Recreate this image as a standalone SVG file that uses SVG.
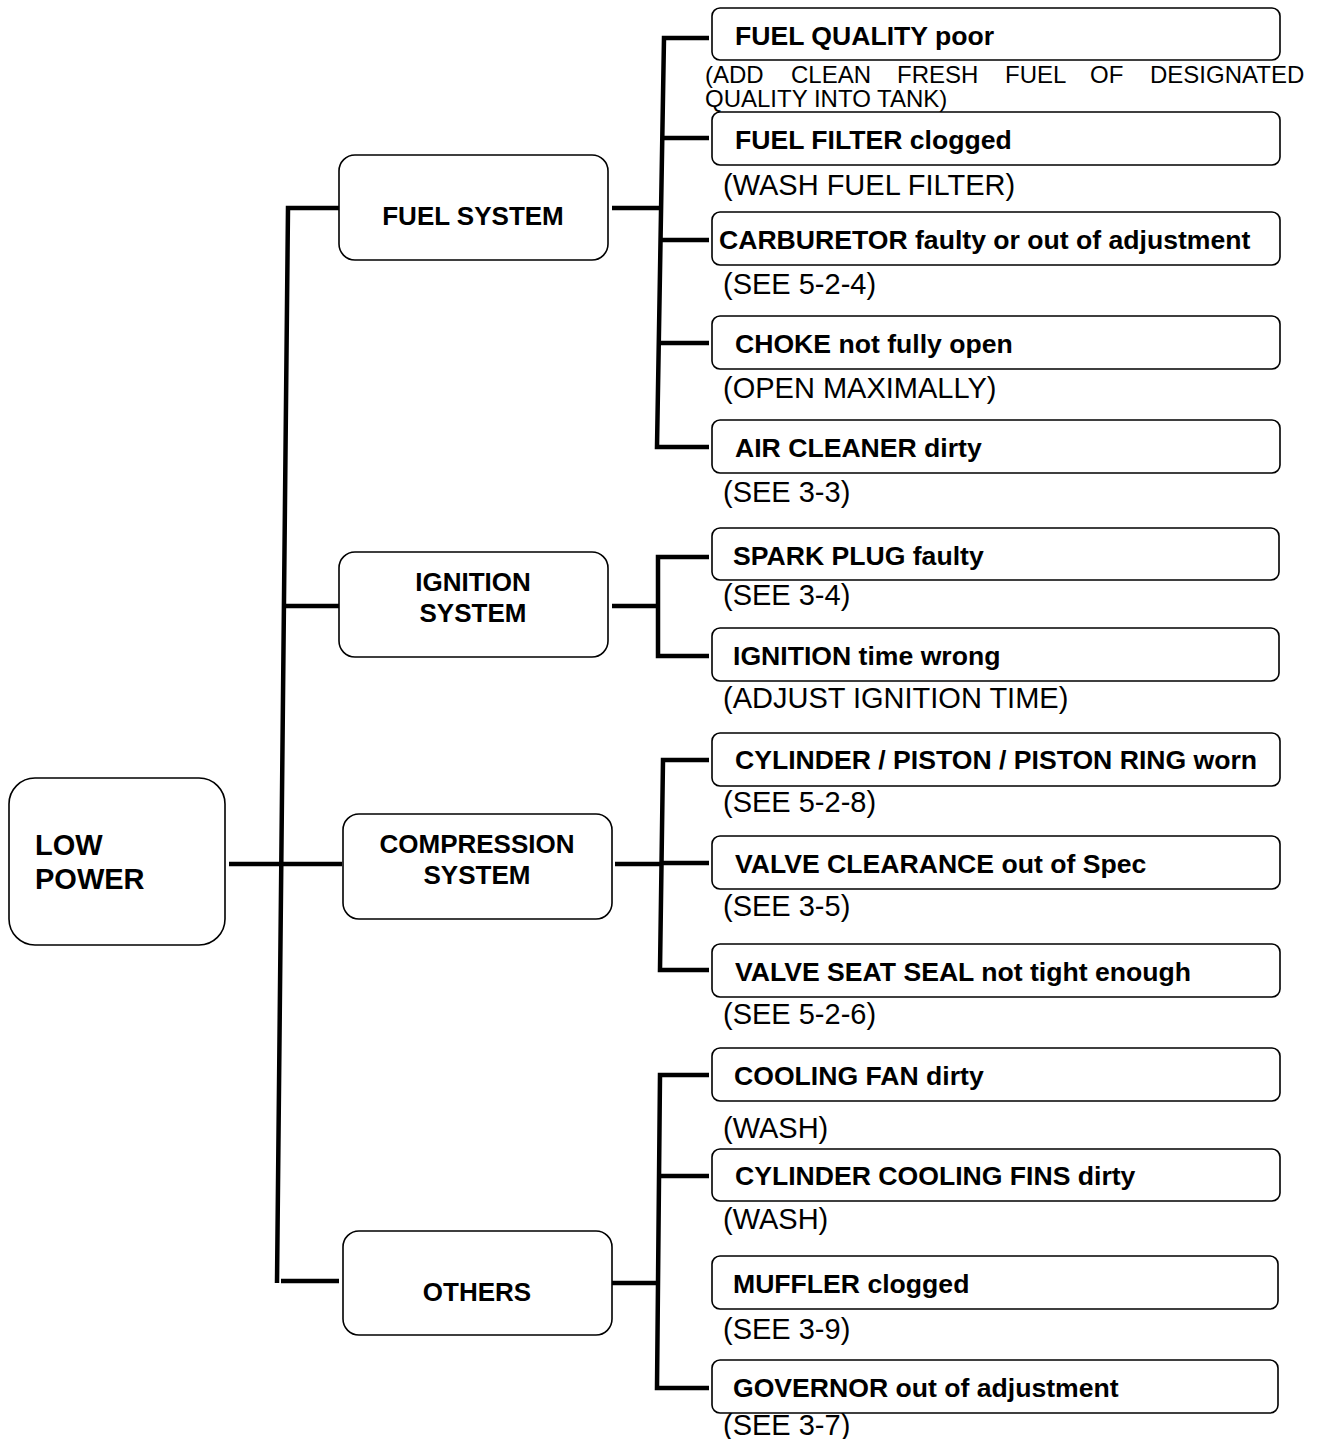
<svg xmlns="http://www.w3.org/2000/svg" width="1318" height="1439" viewBox="0 0 1318 1439">
<style>
.box{fill:#fff;stroke:#000;stroke-width:1.6}
.conn{fill:none;stroke:#000;stroke-width:4.5;stroke-linejoin:miter}
.lbl{font-family:"Liberation Sans",Arial,sans-serif;font-weight:bold;font-size:26.6px;fill:#000}
.cat{font-family:"Liberation Sans",Arial,sans-serif;font-weight:bold;font-size:26px;fill:#000;text-anchor:middle}
.note{font-family:"Liberation Sans",Arial,sans-serif;font-size:29px;fill:#000}
.small{font-family:"Liberation Sans",Arial,sans-serif;font-size:24px;fill:#000}
</style>
<rect width="1318" height="1439" fill="#fff"/>
<g id="connectors">
<path class="conn" d="M339,208 H288 L277,1283"/>
<path class="conn" d="M281,1281 H339"/>
<path class="conn" d="M229,864 H342"/>
<path class="conn" d="M284,606 H339"/>
<path class="conn" d="M612,208 H660"/>
<path class="conn" d="M709,38 H664 L657,447 H709"/>
<path class="conn" d="M662,138 H709"/>
<path class="conn" d="M661,240 H709"/>
<path class="conn" d="M659,343 H709"/>
<path class="conn" d="M612,606 H658"/>
<path class="conn" d="M709,557 H658 V656 H709"/>
<path class="conn" d="M615,864 H661"/>
<path class="conn" d="M709,760 H663 L660,970 H709"/>
<path class="conn" d="M662,863 H709"/>
<path class="conn" d="M612,1283 H658"/>
<path class="conn" d="M709,1075 H660 L657,1388 H709"/>
<path class="conn" d="M659,1176 H709"/>
</g>
<g id="low-power">
<rect class="box" x="9" y="778" width="216" height="167" rx="26"/>
<text class="lbl" style="font-size:29px" x="35" y="855">LOW</text>
<text class="lbl" style="font-size:29px" x="35" y="889">POWER</text>
</g>
<g id="fuel-system">
<rect class="box" x="339" y="155" width="269" height="105" rx="16"/>
<text class="cat" x="473" y="225">FUEL SYSTEM</text>
</g>
<g id="ignition-system">
<rect class="box" x="339" y="552" width="269" height="105" rx="16"/>
<text class="cat" x="473" y="591">IGNITION</text>
<text class="cat" x="473" y="622">SYSTEM</text>
</g>
<g id="compression-system">
<rect class="box" x="343" y="814" width="269" height="105" rx="16"/>
<text class="cat" x="477" y="853">COMPRESSION</text>
<text class="cat" x="477" y="884">SYSTEM</text>
</g>
<g id="others">
<rect class="box" x="343" y="1231" width="269" height="104" rx="16"/>
<text class="cat" x="477" y="1301">OTHERS</text>
</g>
<g id="fuel-quality">
<rect class="box" x="712" y="8" width="568" height="52" rx="8"/>
<text class="lbl" x="735" y="45">FUEL QUALITY poor</text>
<text class="small" y="83"><tspan x="705">(ADD</tspan><tspan x="791">CLEAN</tspan><tspan x="897">FRESH</tspan><tspan x="1005">FUEL</tspan><tspan x="1090">OF</tspan><tspan x="1150">DESIGNATED</tspan></text>
<text class="small" x="705" y="107">QUALITY INTO TANK)</text>
</g>
<g id="fuel-filter">
<rect class="box" x="712" y="112" width="568" height="53" rx="8"/>
<text class="lbl" x="735" y="149">FUEL FILTER clogged</text>
<text class="note" x="723" y="195">(WASH FUEL FILTER)</text>
</g>
<g id="carburetor">
<rect class="box" x="712" y="212" width="568" height="53" rx="8"/>
<text class="lbl" x="719" y="249">CARBURETOR faulty or out of adjustment</text>
<text class="note" x="723" y="294">(SEE 5-2-4)</text>
</g>
<g id="choke">
<rect class="box" x="712" y="316" width="568" height="53" rx="8"/>
<text class="lbl" x="735" y="353">CHOKE not fully open</text>
<text class="note" x="723" y="398">(OPEN MAXIMALLY)</text>
</g>
<g id="air-cleaner">
<rect class="box" x="712" y="420" width="568" height="53" rx="8"/>
<text class="lbl" x="735" y="457">AIR CLEANER dirty</text>
<text class="note" x="723" y="502">(SEE 3-3)</text>
</g>
<g id="spark-plug">
<rect class="box" x="712" y="528" width="567" height="52" rx="8"/>
<text class="lbl" x="733" y="565">SPARK PLUG faulty</text>
<text class="note" x="723" y="605">(SEE 3-4)</text>
</g>
<g id="ignition-time">
<rect class="box" x="712" y="628" width="567" height="53" rx="8"/>
<text class="lbl" x="733" y="665">IGNITION time wrong</text>
<text class="note" x="723" y="708">(ADJUST IGNITION TIME)</text>
</g>
<g id="cylinder">
<rect class="box" x="712" y="733" width="568" height="53" rx="8"/>
<text class="lbl" x="735" y="769">CYLINDER / PISTON / PISTON RING worn</text>
<text class="note" x="723" y="812">(SEE 5-2-8)</text>
</g>
<g id="valve-clearance">
<rect class="box" x="712" y="836" width="568" height="53" rx="8"/>
<text class="lbl" x="735" y="873">VALVE CLEARANCE out of Spec</text>
<text class="note" x="723" y="916">(SEE 3-5)</text>
</g>
<g id="valve-seat">
<rect class="box" x="712" y="944" width="568" height="53" rx="8"/>
<text class="lbl" x="735" y="981">VALVE SEAT SEAL not tight enough</text>
<text class="note" x="723" y="1024">(SEE 5-2-6)</text>
</g>
<g id="cooling-fan">
<rect class="box" x="712" y="1048" width="568" height="53" rx="8"/>
<text class="lbl" x="734" y="1085">COOLING FAN dirty</text>
<text class="note" x="723" y="1138">(WASH)</text>
</g>
<g id="cooling-fins">
<rect class="box" x="712" y="1149" width="568" height="52" rx="8"/>
<text class="lbl" x="735" y="1185">CYLINDER COOLING FINS dirty</text>
<text class="note" x="723" y="1229">(WASH)</text>
</g>
<g id="muffler">
<rect class="box" x="712" y="1256" width="566" height="53" rx="8"/>
<text class="lbl" x="733" y="1293">MUFFLER clogged</text>
<text class="note" x="723" y="1339">(SEE 3-9)</text>
</g>
<g id="governor">
<rect class="box" x="712" y="1360" width="566" height="53" rx="8"/>
<text class="lbl" x="733" y="1397">GOVERNOR out of adjustment</text>
<text class="note" x="723" y="1435">(SEE 3-7)</text>
</g>
</svg>
